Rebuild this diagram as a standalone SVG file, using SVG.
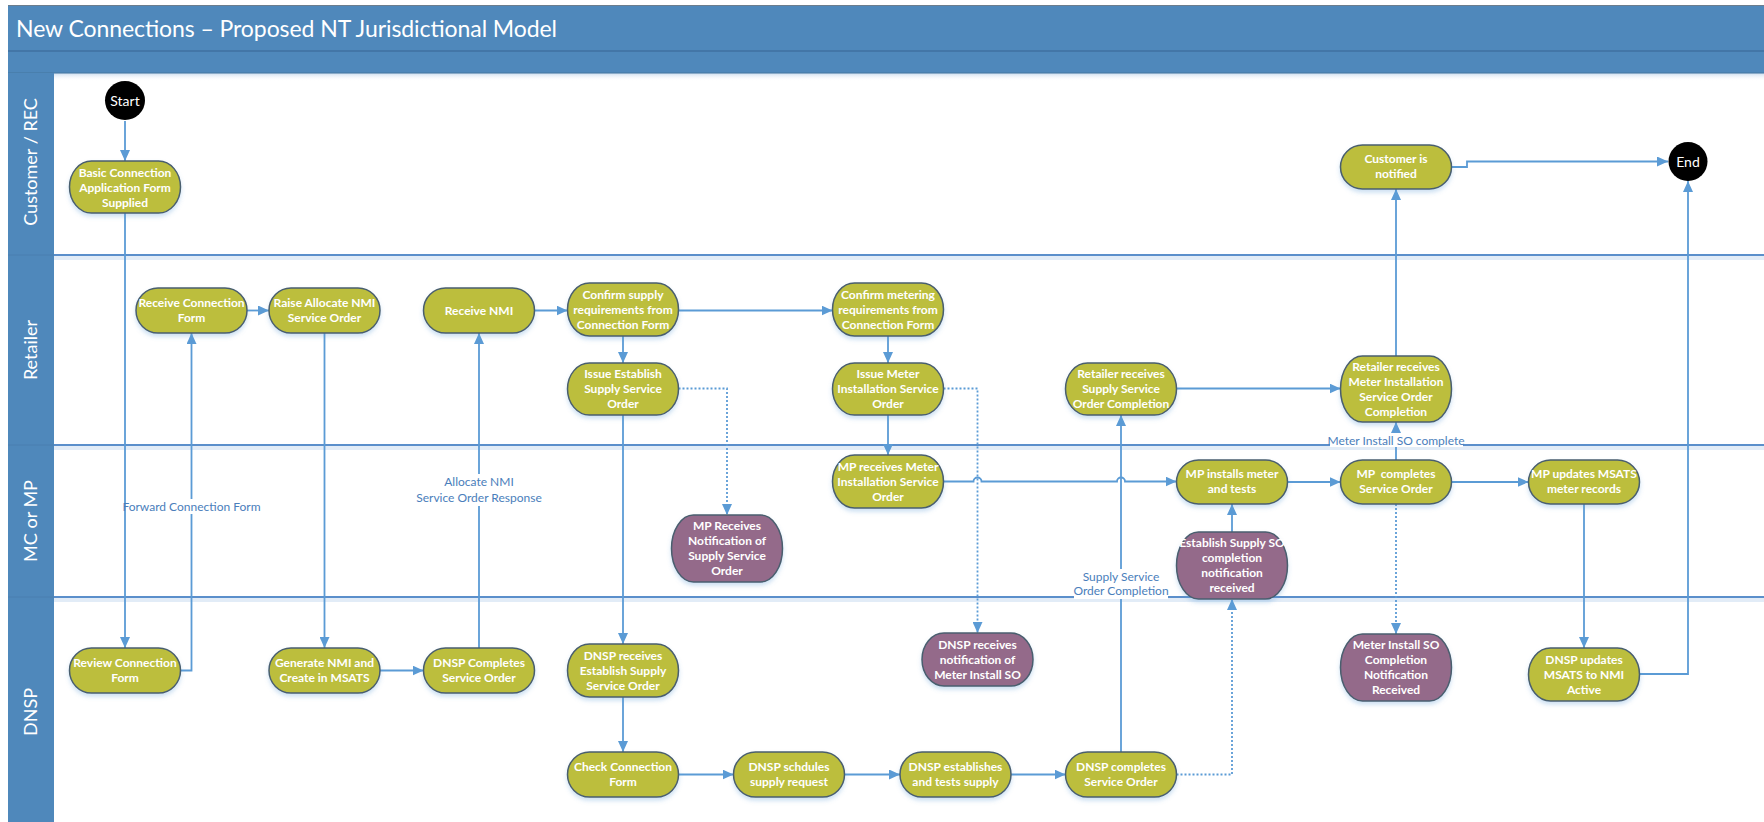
<svg xmlns="http://www.w3.org/2000/svg" width="1764" height="822" viewBox="0 0 1764 822">
<defs>
<style>
.n{fill:#BCBE3E;stroke:#4A5E6E;stroke-width:1.5;filter:url(#sh)}
.p{fill:#946A8A;stroke:#4A5E6E;stroke-width:1.5;filter:url(#sh)}
.t{font-family:Lato,"Open Sans",sans-serif;font-weight:bold;font-size:12px;fill:#fff;text-anchor:middle}
.l{font-family:Lato,"Open Sans",sans-serif;font-size:12px;fill:#4A7EBB;text-anchor:middle}
.lane{font-family:Lato,"Open Sans",sans-serif;font-size:18px;fill:#fff;text-anchor:middle}
.c{fill:none;stroke:#5B9BD5;stroke-width:1.8;marker-end:url(#ah)}
.d{fill:none;stroke:#5B9BD5;stroke-width:1.8;stroke-dasharray:2 2;marker-end:url(#ah)}
.ln{stroke:#5B8FCB;stroke-width:2}
.lsh{stroke:#E2ECF7;stroke-width:4}
</style>
<filter id="sh" x="-20%" y="-20%" width="140%" height="170%">
<feDropShadow dx="0" dy="3" stdDeviation="2" flood-color="#5B9BD5" flood-opacity="0.3"/>
</filter>
<marker id="ah" viewBox="0 0 11 10" refX="11" refY="5" markerWidth="11" markerHeight="10" markerUnits="userSpaceOnUse" orient="auto">
<path d="M0,0 L11,5 L0,10 z" fill="#5B9BD5"/>
</marker>
<linearGradient id="hs" x1="0" y1="0" x2="0" y2="1">
<stop offset="0" stop-color="#C9DBEE"/><stop offset="1" stop-color="#FFFFFF" stop-opacity="0"/>
</linearGradient>
</defs>
<rect width="1764" height="822" fill="#fff"/>

<g id="frame">
<rect x="8" y="73" width="1756" height="8" fill="url(#hs)"/>
<rect x="8" y="5" width="1756" height="68" fill="#4F88BB"/>
<line x1="8" y1="5.5" x2="1764" y2="5.5" stroke="#6C7D8D" stroke-width="1"/>
<line x1="8" y1="51" x2="1764" y2="51" stroke="#3F71A0" stroke-width="1.5"/>
<line x1="8" y1="73" x2="1764" y2="73" stroke="#44779F" stroke-width="1"/>
<text x="16" y="36.5" font-family="Lato,'Open Sans',sans-serif" font-size="23" fill="#fff" textLength="541">New Connections – Proposed NT Jurisdictional Model</text>
<rect x="8" y="73" width="46" height="749" fill="#4F88BB"/>
<line x1="8" y1="255" x2="54" y2="255" stroke="#4A7FB0" stroke-width="1"/>
<line x1="8" y1="445" x2="54" y2="445" stroke="#4A7FB0" stroke-width="1"/>
<line x1="8" y1="597" x2="54" y2="597" stroke="#4A7FB0" stroke-width="1"/>
<text class="lane" transform="translate(37,162) rotate(-90)">Customer / REC</text>
<text class="lane" transform="translate(37,350) rotate(-90)">Retailer</text>
<text class="lane" transform="translate(37,521) rotate(-90)">MC or MP</text>
<text class="lane" transform="translate(37,712) rotate(-90)">DNSP</text>
<line class="lsh" x1="54" y1="258" x2="1764" y2="258"/>
<line class="lsh" x1="54" y1="448" x2="1764" y2="448"/>
<line class="lsh" x1="54" y1="600" x2="1764" y2="600"/>
<line class="ln" x1="54" y1="255" x2="1764" y2="255"/>
<line class="ln" x1="54" y1="445" x2="1764" y2="445"/>
<line class="ln" x1="54" y1="597" x2="1764" y2="597"/>
</g>

<g id="connectors">
<path class="c" d="M125,121 V161"/>
<path class="c" d="M125,213 V648"/>
<path class="c" d="M180,670.5 H191.5 V333"/>
<path class="c" d="M247,310.5 H269"/>
<path class="c" d="M324.5,333 V648"/>
<path class="c" d="M380,670.5 H423.5"/>
<path class="c" d="M479,648 V333"/>
<path class="c" d="M534.5,310.5 H567.5"/>
<path class="c" d="M678.5,310.5 H832.5"/>
<path class="c" d="M623,336 V363"/>
<path class="c" d="M623,415 V644"/>
<path class="d" d="M678.5,388.5 H727 V515"/>
<path class="c" d="M888,336 V363"/>
<path class="c" d="M888,415 V455"/>
<path class="d" d="M943.5,388.5 H977.5 V633"/>
<path class="c" d="M943.5,481.5 H973.5 a4,4 0 0 1 8,0 H1117 a4,4 0 0 1 8,0 H1176.5"/>
<path class="c" d="M623,697 V752"/>
<path class="c" d="M678.5,774.5 H733.5"/>
<path class="c" d="M844.5,774.5 H900"/>
<path class="c" d="M1011,774.5 H1065.5"/>
<path class="c" d="M1121,752 V415"/>
<path class="d" d="M1176.5,774.5 H1232 V599"/>
<path class="c" d="M1232,532 V504"/>
<path class="c" d="M1176.5,388.5 H1340.5"/>
<path class="c" d="M1287.5,482 H1340.5"/>
<path class="c" d="M1396,460 V422"/>
<path class="c" d="M1396,356 V189"/>
<path class="c" d="M1451.5,167 H1467 V161.5 H1668"/>
<path class="c" d="M1451.5,482 H1528.5"/>
<path class="d" d="M1396,504 V634"/>
<path class="c" d="M1584,504 V648"/>
<path class="c" d="M1639.5,674 H1688 V181"/>
<rect x="127" y="499" width="131" height="15" fill="#fff"/>
<text class="l" x="191.5" y="511">Forward Connection Form</text>
<rect x="417" y="474" width="124" height="32" fill="#fff"/>
<text class="l" x="479" y="486">Allocate NMI</text>
<text class="l" x="479" y="502">Service Order Response</text>
<rect x="1074" y="569" width="94" height="30" fill="#fff"/>
<text class="l" x="1121" y="581">Supply Service</text>
<text class="l" x="1121" y="595">Order Completion</text>
<rect x="1330" y="433" width="133" height="14" fill="#fff"/>
<text class="l" x="1396" y="445">Meter Install SO complete</text>
</g>

<g id="start"><ellipse cx="125" cy="100.5" rx="20" ry="19.5" fill="#000"/><text x="125" y="105.5" font-family="Lato,'Open Sans',sans-serif" font-size="14" fill="#fff" text-anchor="middle">Start</text></g>
<g id="end"><ellipse cx="1688" cy="161.5" rx="19.5" ry="19.5" fill="#000"/><text x="1688" y="166.5" font-family="Lato,'Open Sans',sans-serif" font-size="14" fill="#fff" text-anchor="middle">End</text></g>

<g id="basic"><rect class="n" x="69.5" y="161" width="111" height="52" rx="22" ry="26"/><text class="t" x="125" y="176.5">Basic Connection</text><text class="t" x="125" y="191.5">Application Form</text><text class="t" x="125" y="206.5">Supplied</text></g>
<g id="recvform"><rect class="n" x="136" y="288" width="111" height="45" rx="22" ry="22.5"/><text class="t" x="191.5" y="306.5">Receive Connection</text><text class="t" x="191.5" y="321.5">Form</text></g>
<g id="raise"><rect class="n" x="269" y="288" width="111" height="45" rx="22" ry="22.5"/><text class="t" x="324.5" y="306.5">Raise Allocate NMI</text><text class="t" x="324.5" y="321.5">Service Order</text></g>
<g id="recvnmi"><rect class="n" x="423.5" y="288" width="111" height="45" rx="22" ry="22.5"/><text class="t" x="479" y="314.5">Receive NMI</text></g>
<g id="confsupply"><rect class="n" x="567.5" y="283" width="111" height="53" rx="22" ry="26.5"/><text class="t" x="623" y="298.5">Confirm supply</text><text class="t" x="623" y="313.5">requirements from</text><text class="t" x="623" y="328.5">Connection Form</text></g>
<g id="confmeter"><rect class="n" x="832.5" y="283" width="111" height="53" rx="22" ry="26.5"/><text class="t" x="888" y="298.5">Confirm metering</text><text class="t" x="888" y="313.5">requirements from</text><text class="t" x="888" y="328.5">Connection Form</text></g>
<g id="issueest"><rect class="n" x="567.5" y="363" width="111" height="52" rx="22" ry="26"/><text class="t" x="623" y="378">Issue Establish</text><text class="t" x="623" y="393">Supply Service</text><text class="t" x="623" y="408">Order</text></g>
<g id="issuemeter"><rect class="n" x="832.5" y="363" width="111" height="52" rx="22" ry="26"/><text class="t" x="888" y="378">Issue Meter</text><text class="t" x="888" y="393">Installation Service</text><text class="t" x="888" y="408">Order</text></g>
<g id="retsupply"><rect class="n" x="1065.5" y="363" width="111" height="52" rx="22" ry="26"/><text class="t" x="1121" y="378">Retailer receives</text><text class="t" x="1121" y="393">Supply Service</text><text class="t" x="1121" y="408">Order Completion</text></g>
<g id="retmeter"><rect class="n" x="1340.5" y="356" width="111" height="66" rx="22" ry="33"/><text class="t" x="1396" y="370.5">Retailer receives</text><text class="t" x="1396" y="385.5">Meter Installation</text><text class="t" x="1396" y="400.5">Service Order</text><text class="t" x="1396" y="415.5">Completion</text></g>
<g id="custnotified"><rect class="n" x="1340.5" y="145" width="111" height="44" rx="22" ry="22"/><text class="t" x="1396" y="163">Customer is</text><text class="t" x="1396" y="178">notified</text></g>
<g id="mprecvmeter"><rect class="n" x="832.5" y="455" width="111" height="53" rx="22" ry="26.5"/><text class="t" x="888" y="470.5">MP receives Meter</text><text class="t" x="888" y="485.5">Installation Service</text><text class="t" x="888" y="500.5">Order</text></g>
<g id="mprecvnotif"><rect class="p" x="671.5" y="515" width="111" height="67" rx="22" ry="33.5"/><text class="t" x="727" y="530">MP Receives</text><text class="t" x="727" y="545">Notification of</text><text class="t" x="727" y="560">Supply Service</text><text class="t" x="727" y="575">Order</text></g>
<g id="mpinstalls"><rect class="n" x="1176.5" y="460" width="111" height="44" rx="22" ry="22"/><text class="t" x="1232" y="478">MP installs meter</text><text class="t" x="1232" y="493">and tests</text></g>
<g id="mpcompletes"><rect class="n" x="1340.5" y="460" width="111" height="44" rx="22" ry="22"/><text class="t" x="1396" y="478" xml:space="preserve">MP  completes</text><text class="t" x="1396" y="493">Service Order</text></g>
<g id="mpupdates"><rect class="n" x="1528.5" y="460" width="111" height="44" rx="22" ry="22"/><text class="t" x="1584" y="478">MP updates MSATS</text><text class="t" x="1584" y="493">meter records</text></g>
<g id="estnotif"><rect class="p" x="1176.5" y="532" width="111" height="67" rx="22" ry="33.5"/><text class="t" x="1232" y="547">Establish Supply SO</text><text class="t" x="1232" y="562">completion</text><text class="t" x="1232" y="577">notification</text><text class="t" x="1232" y="592">received</text></g>
<g id="review"><rect class="n" x="69.5" y="648" width="111" height="45" rx="22" ry="22.5"/><text class="t" x="125" y="666.5">Review Connection</text><text class="t" x="125" y="681.5">Form</text></g>
<g id="generate"><rect class="n" x="269" y="648" width="111" height="45" rx="22" ry="22.5"/><text class="t" x="324.5" y="666.5">Generate NMI and</text><text class="t" x="324.5" y="681.5">Create in MSATS</text></g>
<g id="dnspcomp1"><rect class="n" x="423.5" y="648" width="111" height="45" rx="22" ry="22.5"/><text class="t" x="479" y="666.5">DNSP Completes</text><text class="t" x="479" y="681.5">Service Order</text></g>
<g id="dnsprecvest"><rect class="n" x="567.5" y="644" width="111" height="53" rx="22" ry="26.5"/><text class="t" x="623" y="659.5">DNSP receives</text><text class="t" x="623" y="674.5">Establish Supply</text><text class="t" x="623" y="689.5">Service Order</text></g>
<g id="check"><rect class="n" x="567.5" y="752" width="111" height="45" rx="22" ry="22.5"/><text class="t" x="623" y="770.5">Check Connection</text><text class="t" x="623" y="785.5">Form</text></g>
<g id="schdules"><rect class="n" x="733.5" y="752" width="111" height="45" rx="22" ry="22.5"/><text class="t" x="789" y="770.5">DNSP schdules</text><text class="t" x="789" y="785.5">supply request</text></g>
<g id="establishes"><rect class="n" x="900" y="752" width="111" height="45" rx="22" ry="22.5"/><text class="t" x="955.5" y="770.5">DNSP establishes</text><text class="t" x="955.5" y="785.5">and tests supply</text></g>
<g id="dnspcomp2"><rect class="n" x="1065.5" y="752" width="111" height="45" rx="22" ry="22.5"/><text class="t" x="1121" y="770.5">DNSP completes</text><text class="t" x="1121" y="785.5">Service Order</text></g>
<g id="dnsprecvnotif"><rect class="p" x="922" y="633" width="111" height="53" rx="22" ry="26.5"/><text class="t" x="977.5" y="648.5">DNSP receives</text><text class="t" x="977.5" y="663.5">notification of</text><text class="t" x="977.5" y="678.5">Meter Install SO</text></g>
<g id="meterinstnotif"><rect class="p" x="1340.5" y="634" width="111" height="67" rx="22" ry="33.5"/><text class="t" x="1396" y="649">Meter Install SO</text><text class="t" x="1396" y="664">Completion</text><text class="t" x="1396" y="679">Notification</text><text class="t" x="1396" y="694">Received</text></g>
<g id="dnspupdates"><rect class="n" x="1528.5" y="648" width="111" height="53" rx="22" ry="26.5"/><text class="t" x="1584" y="663.5">DNSP updates</text><text class="t" x="1584" y="678.5">MSATS to NMI</text><text class="t" x="1584" y="693.5">Active</text></g>
</svg>
